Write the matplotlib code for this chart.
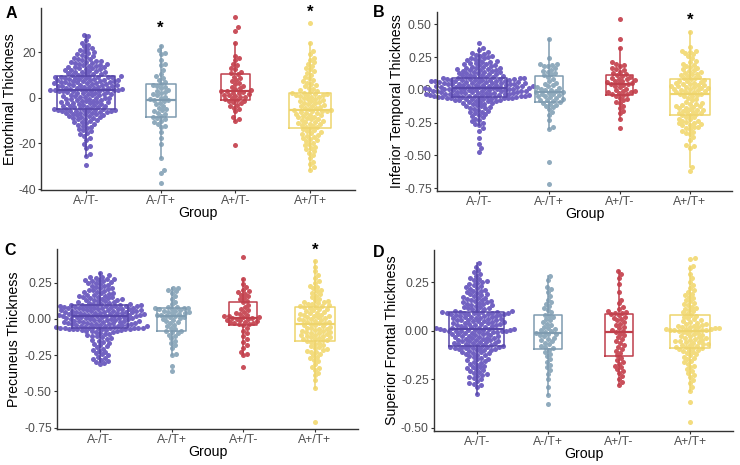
import numpy as np
import matplotlib
matplotlib.use("Agg")
import matplotlib.pyplot as plt

plt.rcParams['font.family'] = ['Liberation Sans', 'DejaVu Sans']

# ----------------------------- DATA ------------------------------------
groups = ["A-/T-", "A-/T+", "A+/T-", "A+/T+"]
dot_colors = ["#7262c2", "#90abbd", "#c9505b", "#f3dc7e"]
line_colors = ["#5646a8", "#7e9bb0", "#bf3f4b", "#eed46c"]

# Entorhinal thickness (raw units)
ento_an_tn = """
-29.5 -25.3 -24.8 -22.0 -21.2 -20.3 -18.5 -17.6 -16.8 -16.0 -15.3 -14.7 -14.1 -13.6 -13.1 -12.6 -12.2 -11.8
-11.4 -11.0 -10.7 -10.4 -10.1 -9.8 -9.5 -9.2 -9.0 -8.7 -8.5 -8.3 -8.1 -7.9 -7.7 -7.5 -7.3 -7.1 -6.9 -6.8 -6.6
-6.5 -6.3 -6.2 -6.0 -5.9 -5.8 -5.7 -5.6 -5.5 -5.4 -5.3 -5.2 -5.1
-4.9 -4.7 -4.5 -4.4 -4.2 -4.0 -3.9 -3.7 -3.5 -3.4 -3.2 -3.0 -2.9 -2.7 -2.5 -2.4 -2.2 -2.0 -1.9 -1.7
-1.5 -1.4 -1.2 -1.0 -0.9 -0.7 -0.5 -0.4 -0.2 0.0 0.1 0.3 0.5 0.6 0.8 1.0 1.1 1.3 1.5 1.6
1.8 2.0 2.1 2.3 2.5 2.6 2.8 2.9 3.0 3.1 3.1 3.2 3.2
3.3 3.4 3.5 3.7 3.8 3.9 4.0 4.2 4.3 4.4 4.5 4.7 4.8 4.9 5.0 5.2 5.3 5.4 5.5 5.7
5.8 5.9 6.0 6.2 6.3 6.4 6.5 6.7 6.8 6.9 7.0 7.2 7.3 7.4 7.5 7.7 7.8 7.9 8.0 8.2
8.3 8.4 8.5 8.7 8.8 8.9 9.0 9.1 9.2 9.3 9.4 9.5
9.7 9.9 10.1 10.3 10.5 10.7 10.9 11.1 11.3 11.5 11.7 11.9 12.1 12.3 12.5 12.7 12.9 13.1 13.3 13.5
13.7 13.9 14.1 14.3 14.5 14.7 15.0 15.2 15.4 15.6 15.8 16.0 16.3 16.6 16.9 17.2 17.5 17.8 18.2 18.6
19.0 19.5 20.0 20.4 20.9 21.4 22.0 22.6 23.3 24.2 25.5 27.0 27.4
"""
ento_an_tp = """
-37.3 -33.0 -31.8 -26.2 -20.4 -17.6 -15.2 -13.0 -12.2 -11.5 -10.8 -10.0 -9.4 -8.8
-8.4 -7.9 -7.2 -6.5 -6.0 -5.5 -5.0 -4.3 -3.6 -2.9 -2.2 -1.6 -1.1
-0.9 -0.5 0.0 0.5 1.0 1.5 2.0 2.5 3.0 3.6 4.2 4.8 5.3 5.7
6.2 7.0 7.8 8.6 9.4 10.5 12.0 14.2 15.0 16.5 19.2 19.8 21.0 22.8
"""
ento_ap_tn = """
-20.6 -10.2 -9.4 -8.6 -6.0 -5.0 -4.3 -3.6 -3.0 -2.5 -2.0 -1.6 -1.3
-1.0 -0.6 -0.2 0.2 0.5 0.8 1.1 1.4 1.7 2.0 2.3 2.6 2.8
2.9 3.3 3.8 4.3 4.8 5.3 5.9 6.5 7.2 7.8 8.5 9.3 10.2
10.8 11.5 12.4 13.2 14.2 15.0 16.5 17.5 18.5 24.2 29.3 30.8 35.2
"""
ento_ap_tp = """
-31.6 -30.5 -29.2 -28.0 -26.5 -25.0 -24.0 -23.2 -22.5 -22.0 -21.4 -20.8 -20.2 -19.6 -19.0 -18.5 -18.0 -17.5
-17.0 -16.6 -16.2 -15.8 -15.4 -15.0 -14.6 -14.2 -13.8
-13.4 -13.0 -12.6 -12.2 -11.9 -11.6 -11.3 -11.0 -10.7 -10.4 -10.1 -9.8 -9.5 -9.2 -8.9 -8.6 -8.3 -8.0
-7.7 -7.4 -7.1 -6.8 -6.6 -6.3 -6.0 -5.8 -5.6 -5.5
-5.2 -4.9 -4.6 -4.3 -4.0 -3.7 -3.4 -3.1 -2.8 -2.5 -2.2 -1.9 -1.6 -1.3 -1.0 -0.7 -0.4 -0.1 0.2 0.5
0.8 1.0 1.2 1.4 1.6 1.8 2.0
2.3 2.7 3.1 3.5 4.0 4.5 5.0 5.5 6.0 6.6 7.2 7.8 8.5 9.2 10.0 10.8 11.6 12.4 13.2 14.0
14.8 15.6 16.5 17.5 19.0 20.5 24.2 32.8
"""

# Inferior temporal thickness (thousandths)
itemp_an_tn = """
-470 -440 -410 -370 -310 -290 -270 -260 -250 -240 -230 -220 -210 -200 -190 -185 -180 -170 -165 -160
-150 -145 -140 -135 -130 -125 -120 -115 -110 -105 -100 -97 -94 -91 -88 -85 -82 -79 -76 -74
-72 -70 -68 -66 -64 -63 -62 -61 -60 -59 -58 -57
-56 -54 -53 -51 -50 -49 -47 -46 -44 -43 -42 -40 -39 -37 -36 -35 -33 -32 -30 -29
-28 -26 -25 -23 -22 -21 -19 -18 -16 -15 -14 -12 -11 -9 -8 -7 -5 -4 -2 -1
0 2 3 5 6 7 8 9 10 11 12 13 14
16 18 19 21 22 24 25 27 28 30 31 33 34 36 37 39 40 42 43 45
46 48 49 51 52 54 55 57 58 60 61 63 64 66 67 69 70 72 73 75
76 78 79 81 82 84 85 87 88 90 91 92
95 98 101 104 107 110 113 116 119 122 125 128 131 134 137 140 143 146 149 152
155 158 161 164 167 170 174 178 182 186 190 194 198 202 206 210 215 220 225 230
235 240 245 250 256 262 268 275 282 290 305 318 360
"""
itemp_an_tp = """
-718 -547 -300 -285 -230 -190 -165 -145 -130 -120 -112 -105 -98 -92
-86 -80 -74 -68 -62 -56 -50 -45 -40 -35 -30 -25 -20
-16 -10 -4 2 8 14 20 28 36 45 55 70 85 100
110 118 126 135 145 155 165 180 185 190 195 200 240 385
"""
itemp_ap_tn = """
-290 -225 -180 -160 -140 -120 -100 -90 -80 -70 -60 -50 -40
-35 -30 -25 -20 -15 -10 -5 0 10 20 30 38 45
48 52 56 60 65 70 75 80 85 90 95 105 115
120 130 140 150 160 170 180 190 200 210 320 390 540
"""
itemp_ap_tp = """
-620 -590 -440 -430 -420 -380 -360 -340 -330 -320 -310 -300 -290 -285 -280 -270 -265 -260 -255 -250
-245 -240 -235 -225 -220 -210 -205
-195 -190 -185 -180 -175 -170 -165 -160 -155 -150 -145 -140 -135 -130 -125 -120 -115 -110 -105 -100
-90 -80 -70 -60 -50 -45 -40 -35
-28 -24 -20 -16 -12 -8 -4 0 4 8 12 16 20 24 28 32 36 40 44 48
52 56 60 65 70 75 82
88 94 100 106 112 118 124 130 136 142 150 158 166 174 182 190 200 210 220 240
255 270 280 290 295 300 330 443
"""

# Precuneus thickness (thousandths)
prec_an_tn = """
-312 -305 -298 -290 -283 -276 -268 -260 -252 -244 -236 -228 -220 -212 -204 -196 -188 -180 -172 -165
-158 -151 -145 -139 -133 -127 -121 -116 -111 -106 -101 -97 -93 -89 -86 -83 -80 -78 -76 -74
-72 -71 -70 -69 -68 -67 -66 -66 -65 -65 -64 -64
-62 -60 -58 -57 -55 -53 -52 -50 -48 -47 -45 -43 -42 -40 -38 -37 -35 -33 -32 -30
-28 -27 -25 -23 -22 -20 -18 -17 -15 -13 -12 -10 -8 -7 -5 -3 -2 0 2 3
5 7 8 10 12 13 15 17 18 20 21 22 23
24 26 27 29 30 32 33 35 36 38 39 41 42 44 45 47 48 50 51 53
54 56 57 59 60 62 63 65 66 68 69 71 72 74 75 77 78 80 81 83
84 86 87 89 90 91 92 93 94 95 96 97
100 103 106 109 112 115 118 121 124 127 130 133 136 139 142 145 148 151 154 157
160 164 168 172 176 180 184 188 192 196 200 205 210 215 220 225 230 235 240 245
250 254 258 262 266 270 274 278 282 287 292 300 315
"""
prec_an_tp = """
-357 -325 -250 -240 -200 -180 -165 -150 -135 -120 -110 -100 -92 -86
-80 -70 -60 -50 -40 -30 -22 -15 -8 -2 4 10 14
18 22 26 30 34 38 42 46 50 54 58 62 66 70
74 76 78 80 82 100 120 140 160 180 190 200 210 216
"""
prec_ap_tn = """
-333 -250 -240 -225 -200 -180 -160 -140 -120 -100 -80 -60 -45
-38 -34 -30 -26 -22 -18 -14 -10 -6 -2 2 5 8
10 14 18 22 28 34 40 50 60 70 80 95 115
125 135 145 155 165 175 185 190 200 220 240 275 425
"""
prec_ap_tp = """
-708 -478 -420 -390 -370 -350 -340 -330 -310 -290 -280 -270 -260 -250 -240 -230 -225 -220 -215 -210
-200 -195 -190 -180 -170 -165 -160
-152 -148 -144 -140 -136 -132 -128 -124 -120 -116 -112 -108 -104 -100 -96 -92 -88 -84 -80 -76
-72 -68 -64 -60 -56 -50 -45 -40
-34 -30 -26 -22 -18 -14 -10 -6 -2 2 6 10 14 18 22 26 30 34 38 42
48 54 60 66 70 75 80
84 88 92 96 100 105 110 115 120 125 130 140 150 160 170 180 190 200 210 220
230 245 260 280 300 330 360 400
"""

# Superior frontal thickness (thousandths)
supf_an_tn = """
-328 -290 -280 -275 -270 -260 -250 -245 -240 -235 -230 -225 -220 -215 -210 -205 -200 -195 -190 -185
-180 -175 -170 -165 -160 -156 -152 -148 -144 -140 -136 -132 -128 -124 -120 -117 -114 -111 -108 -105
-102 -100 -98 -96 -94 -92 -90 -89 -88 -87 -86 -84
-82 -80 -78 -76 -74 -72 -70 -68 -66 -64 -62 -60 -58 -56 -54 -52 -50 -48 -46 -44
-42 -40 -38 -36 -34 -32 -30 -28 -26 -24 -22 -20 -18 -16 -14 -12 -10 -8 -6 -5
-4 -3 -2 -1 0 1 2 3 4 5 6 8 9
11 13 15 17 19 21 23 25 27 29 30 32 34 36 38 40 41 43 45 47
48 50 52 54 56 57 59 61 63 65 66 68 70 72 74 75 77 79 81 83
84 86 87 88 89 90 91 92 93 94 95 96
98 100 103 106 109 112 115 118 121 124 127 130 133 136 139 142 145 148 151 154
157 160 163 166 170 174 178 182 186 190 194 198 202 206 210 215 220 225 230 235
240 245 250 255 260 265 270 280 290 300 310 330 347
"""
supf_an_tp = """
-376 -333 -290 -250 -225 -205 -190 -175 -160 -145 -130 -120 -110 -100
-92 -85 -78 -70 -62 -55 -48 -42 -36 -30 -25 -20 -16
-13 -8 -3 2 8 14 20 28 36 44 52 60 68 76
82 95 105 115 125 135 145 160 180 200 215 225 260 280
"""
supf_ap_tn = """
-282 -265 -250 -235 -220 -210 -200 -190 -180 -170 -160 -150 -140
-128 -115 -105 -95 -85 -75 -65 -55 -45 -35 -25 -15 -8
-2 5 12 20 28 36 44 52 60 66 72 78 84
90 92 95 100 110 120 140 160 200 240 270 290 307
"""
supf_ap_tp = """
-471 -366 -310 -290 -270 -255 -240 -230 -220 -210 -200 -190 -180 -172 -164 -156 -148 -140 -134 -128
-122 -116 -110 -106 -102 -98 -95
-91 -88 -85 -82 -79 -76 -73 -70 -67 -64 -61 -58 -55 -52 -49 -46 -43 -40 -37 -34
-30 -26 -22 -18 -14 -10 -6 -2
0 1 2 3 4 5 6 8 10 12 14 16 18 20 23 26 29 32 36 40
44 48 52 58 64 70 76
82 88 94 100 106 112 118 124 130 136 142 150 158 166 174 182 190 200 210 220
235 250 270 290 320 335 370 373
"""


def vals(s, scale=1.0):
    return np.array(s.split(), dtype=float) * scale


ento = [vals(s) for s in (ento_an_tn, ento_an_tp, ento_ap_tn, ento_ap_tp)]
itemp = [vals(s, 0.001) for s in (itemp_an_tn, itemp_an_tp, itemp_ap_tn, itemp_ap_tp)]
prec = [vals(s, 0.001) for s in (prec_an_tn, prec_an_tp, prec_ap_tn, prec_ap_tp)]
supf = [vals(s, 0.001) for s in (supf_an_tn, supf_an_tp, supf_ap_tn, supf_ap_tp)]

# --------------------------- SETTINGS ----------------------------------
W, H, DPI = 740, 465, 100
GAP = 4.3   # swarm spacing, px
DOT = 5.0   # dot diameter, px

# letter, ylabel, data, ylim, yticks, tick fmt, stars {group: y},
# axes rect px (l, t, r, b), letter pos px, ylabel centre x px
panels = [
    ("A", "Entorhinal Thickness", ento, (-40.4, 39.2), [-40, -20, 0, 20], "{:.0f}",
     {1: 32.5, 3: 39.6}, (41, 8.3, 355, 190), (6, 18), 10),
    ("B", "Inferior Temporal Thickness", itemp, (-0.771, 0.596),
     [-0.75, -0.5, -0.25, 0, 0.25, 0.5], "{:.2f}", {3: 0.566}, (437, 11.7, 732, 191), (373, 17), 397),
    ("C", "Precuneus Thickness", prec, (-0.761, 0.482), [-0.75, -0.5, -0.25, 0, 0.25], "{:.2f}",
     {3: 0.505}, (57, 249, 358, 429.3), (4, 255), 14),
    ("D", "Superior Frontal Thickness", supf, (-0.517, 0.415), [-0.5, -0.25, 0, 0.25], "{:.2f}",
     {}, (434, 250, 733, 431), (373, 257), 392),
]


def swarm_offsets(y_px, d):
    order = np.argsort(y_px, kind="stable")
    px_x, px_y = [], []
    out = np.zeros(len(y_px))
    for i in order:
        yi = y_px[i]
        near = [(xj, yj) for xj, yj in zip(px_x, px_y) if abs(yj - yi) < d]
        cands = [0.0]
        for xj, yj in near:
            dx = np.sqrt(d * d - (yj - yi) ** 2)
            cands += [xj + dx, xj - dx]
        cands.sort(key=abs)
        for c in cands:
            if all((c - xj) ** 2 + (yi - yj) ** 2 >= d * d - 1e-6 for xj, yj in near):
                out[i] = c
                break
        px_x.append(out[i])
        px_y.append(yi)
    return out


# ----------------------------- FIGURE ----------------------------------
fig = plt.figure(figsize=(W / DPI, H / DPI), dpi=DPI)

for letter, ylabel, data, ylim, yticks, fmt, stars, rect, lpos, ylx in panels:
    l, t, r, b = rect
    ax = fig.add_axes([l / W, 1 - b / H, (r - l) / W, (b - t) / H])
    ax.set_xlim(-0.6, 3.6)
    ax.set_ylim(*ylim)

    sx = (r - l) / 4.2
    sy = (b - t) / (ylim[1] - ylim[0])

    ns = np.array([len(v) for v in data])
    widths = 0.78 * np.sqrt(ns / ns.max())

    for gi, v in enumerate(data):
        xo = swarm_offsets(v * sy, GAP)
        ax.scatter(gi + xo / sx, v, s=(DOT * 72 / DPI) ** 2, color=dot_colors[gi],
                   linewidths=0, zorder=2, clip_on=False)

    bp = ax.boxplot(data, positions=range(4), widths=widths, showfliers=False, whis=1.5,
                    manage_ticks=False)
    for gi in range(4):
        c = line_colors[gi]
        bp["boxes"][gi].set(color=c, linewidth=1.1, zorder=3)
        bp["medians"][gi].set(color=c, linewidth=1.6, zorder=3)
        for w in bp["whiskers"][2 * gi:2 * gi + 2]:
            w.set(color=c, linewidth=1.1, zorder=3)
        for cp in bp["caps"][2 * gi:2 * gi + 2]:
            cp.set_visible(False)

    for gi, yv in stars.items():
        ax.annotate("*", (gi, yv), xytext=(0, -3.5), textcoords="offset points",
                    ha="center", va="center", fontsize=12, fontweight="bold",
                    color="black", annotation_clip=False)

    ax.set_xticks(range(4))
    ax.set_xticklabels(groups)
    ax.set_yticks(yticks)
    ax.set_yticklabels([fmt.format(v) for v in yticks])
    ax.tick_params(axis="both", labelsize=8.8, labelcolor="#4d4d4d", color="#333333",
                   length=2.5, width=0.8, pad=1.2)

    for s in ("top", "right"):
        ax.spines[s].set_visible(False)
    for s in ("left", "bottom"):
        ax.spines[s].set_color("#333333")
        ax.spines[s].set_linewidth(1.0)

    ax.set_xlabel("Group", fontsize=10.2, color="black")
    ax.xaxis.set_label_coords(0.5, -15.5 / (b - t))
    ax.set_ylabel(ylabel, fontsize=10.2, color="black")
    ax.yaxis.label.set_va("center")
    ax.yaxis.set_label_coords((ylx - l) / (r - l), 0.5)

    fig.text(lpos[0] / W, 1 - lpos[1] / H, letter, ha="left", va="baseline",
             fontsize=11.5, fontweight="bold", color="black")

fig.savefig("out.png", dpi=DPI)
